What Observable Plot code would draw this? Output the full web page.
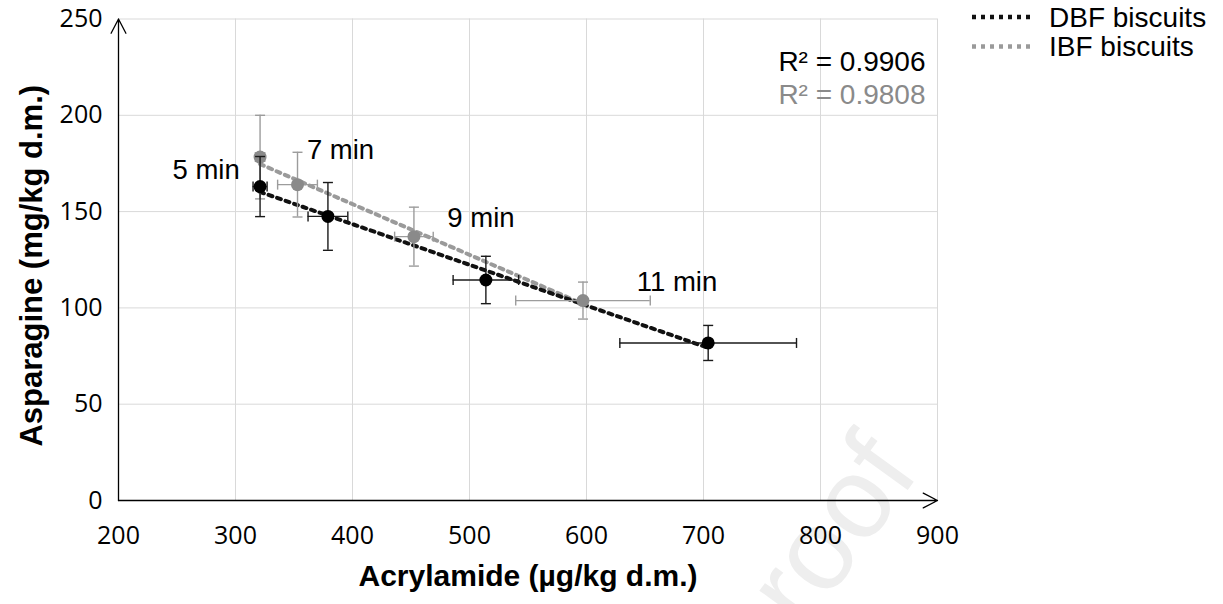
<!DOCTYPE html>
<html>
<head>
<meta charset="utf-8">
<script src="https://cdn.jsdelivr.net/npm/d3@7"></script>
<script src="https://cdn.jsdelivr.net/npm/@observablehq/plot@0.6"></script>
<style>
  body { margin: 0; background: #fff; }
  #chart { width: 1223px; height: 604px; overflow: hidden; }
</style>
</head>
<body>
<div id="chart"></div>
<script>
// ---- data ----
const xDomain = [200, 900];
const yDomain = [0, 250];
const xTicks = [200, 300, 400, 500, 600, 700, 800, 900];
const yTicks = [0, 50, 100, 150, 200, 250];
const times = ["5 min", "7 min", "9 min", "11 min"];
const dbfAcrylamide   = [321, 379, 514, 704];
const dbfAcrylamideSD = [6, 17, 28, 75.5];
const dbfAsparagine   = [163, 147.5, 114.5, 81.8];
const dbfAsparagineSD = [15.6, 17.6, 12.3, 9.1];
const ibfAcrylamide   = [321, 353, 452.5, 597];
const ibfAcrylamideSD = [4, 17, 16.5, 57.5];
const ibfAsparagine   = [178.3, 164, 137, 103.8];
const ibfAsparagineSD = [21.7, 16.8, 15.3, 9.6];
const seriesNames = ["DBF biscuits", "IBF biscuits"];
const r2Labels = ["R\u00B2 = 0.9906", "R\u00B2 = 0.9808"];
const xTitle = "Acrylamide (\u00B5g/kg d.m.)";
const yTitle = "Asparagine (mg/kg d.m.)";
const watermark = "Journal Pre-proof";

// ---- styles ----
const BLACK = "#000000";
const GRAY = "#8a8a8a";
const GRAY_LINE = "#9a9a9a";
const GRAY_ERR = "#9c9c9c";
const BLACK_ERR = "#1a1a1a";
const ARIAL = "'Liberation Sans', Arial, sans-serif";
const TICKFONT = "'Open Sans', 'Liberation Sans', sans-serif";

const dbf = times.map((t, i) => ({time: t, x: dbfAcrylamide[i], ex: dbfAcrylamideSD[i], y: dbfAsparagine[i], ey: dbfAsparagineSD[i]}));
const ibf = times.map((t, i) => ({time: t, x: ibfAcrylamide[i], ex: ibfAcrylamideSD[i], y: ibfAsparagine[i], ey: ibfAsparagineSD[i]}));

const capH = {draw(ctx, size) { const r = Math.sqrt(size / Math.PI); ctx.moveTo(-r, 0); ctx.lineTo(r, 0); }};
const capV = {draw(ctx, size) { const r = Math.sqrt(size / Math.PI); ctx.moveTo(0, -r); ctx.lineTo(0, r); }};

function errorMarks(data, color) {
  const sw = 1.4;
  return [
    Plot.ruleX(data, {x: "x", y1: d => d.y - d.ey, y2: d => d.y + d.ey, stroke: color, strokeWidth: sw}),
    Plot.ruleY(data, {y: "y", x1: d => d.x - d.ex, x2: d => d.x + d.ex, stroke: color, strokeWidth: sw}),
    Plot.dot(data, {x: "x", y: d => d.y + d.ey, symbol: capH, r: 5, stroke: color, strokeWidth: sw, fill: "none"}),
    Plot.dot(data, {x: "x", y: d => d.y - d.ey, symbol: capH, r: 5, stroke: color, strokeWidth: sw, fill: "none"}),
    Plot.dot(data, {x: d => d.x - d.ex, y: "y", symbol: capV, r: 5, stroke: color, strokeWidth: sw, fill: "none"}),
    Plot.dot(data, {x: d => d.x + d.ex, y: "y", symbol: capV, r: 5, stroke: color, strokeWidth: sw, fill: "none"})
  ];
}

const axisLines = [
  {x1: xDomain[0], y1: yDomain[0], x2: xDomain[1], y2: yDomain[0]},
  {x1: xDomain[0], y1: yDomain[0], x2: xDomain[0], y2: yDomain[1]}
];

const labelOffsets = [[-54, 13], [43, -34], [67, -18], [94, -18]];
const timeLabels = ibf.map((d, i) =>
  Plot.text([d], {x: "x", y: "y", text: "time", dx: labelOffsets[i][0], dy: labelOffsets[i][1],
    fontSize: 27.5, fontFamily: ARIAL, fill: "#000"}));

const dash = "4 5";

const plot = Plot.plot({
  width: 1223,
  height: 604,
  marginLeft: 118,
  marginRight: 286,
  marginTop: 18.5,
  marginBottom: 104,
  x: {domain: xDomain},
  y: {domain: yDomain},
  style: {fontFamily: ARIAL, background: "#fff", overflow: "visible", color: "#000"},
  marks: [
    Plot.text([watermark], {text: d => d, frameAnchor: "bottom-right", dx: -17, dy: -28, rotate: -54,
      textAnchor: "end", fontSize: 115, fontFamily: ARIAL, fill: "#eeeeee"}),
    Plot.gridX(xTicks, {stroke: "#d9d9d9", strokeOpacity: 1, strokeWidth: 1}),
    Plot.gridY(yTicks, {stroke: "#d9d9d9", strokeOpacity: 1, strokeWidth: 1}),
    Plot.axisX(xTicks, {tickSize: 0, tickPadding: 26, fontSize: 25, fontFamily: TICKFONT, label: null, tickFormat: d => String(d)}),
    Plot.axisY(yTicks, {tickSize: 0, tickPadding: 16, fontSize: 25, fontFamily: TICKFONT, label: null, tickFormat: d => String(d)}),
    Plot.arrow(axisLines, {x1: "x1", y1: "y1", x2: "x2", y2: "y2", stroke: BLACK, strokeWidth: 1.3, headLength: 18.5, headAngle: 55}),
    Plot.linearRegressionY(ibf, {x: "x", y: "y", ci: 0, stroke: GRAY_LINE, strokeWidth: 4, strokeDasharray: dash}),
    Plot.linearRegressionY(dbf, {x: "x", y: "y", ci: 0, stroke: "#111", strokeWidth: 4, strokeDasharray: dash}),
    ...errorMarks(ibf, GRAY_ERR),
    Plot.dot(ibf, {x: "x", y: "y", r: 6.5, fill: GRAY, stroke: "none"}),
    ...errorMarks(dbf, BLACK_ERR),
    Plot.dot(dbf, {x: "x", y: "y", r: 6.5, fill: BLACK, stroke: "none"}),
    ...timeLabels,
    Plot.text([r2Labels[0]], {text: d => d, frameAnchor: "top-right", dx: -12, dy: 32.5, textAnchor: "end", fontSize: 28, fontFamily: ARIAL, fill: "#000"}),
    Plot.text([r2Labels[1]], {text: d => d, frameAnchor: "top-right", dx: -12, dy: 65.5, textAnchor: "end", fontSize: 28, fontFamily: ARIAL, fill: GRAY}),
    Plot.text([xTitle], {text: d => d, frameAnchor: "bottom", textAnchor: "middle", dx: 0, dy: 85, fontSize: 30, fontWeight: "bold", fontFamily: ARIAL, fill: "#000"}),
    Plot.text([yTitle], {text: d => d, frameAnchor: "left", textAnchor: "middle", dx: -86, dy: 6, rotate: -90, fontSize: 31, fontWeight: "bold", fontFamily: ARIAL, fill: "#000"})
  ]
});

// ---- legend (top right, outside the plot frame) ----
const svg = d3.select(plot);
const legendColors = ["#111", GRAY_LINE];
const lg = svg.append("g").attr("class", "legend").attr("text-anchor", "start");
seriesNames.forEach((name, i) => {
  const cy = 17 + i * 29.5;
  lg.append("line").attr("x1", 972).attr("x2", 1032).attr("y1", cy).attr("y2", cy)
    .attr("stroke", legendColors[i]).attr("stroke-width", 4.5).attr("stroke-dasharray", dash);
  lg.append("text").attr("x", 1049).attr("y", cy).attr("dy", "0.35em").attr("text-anchor", "start")
    .attr("font-family", ARIAL).attr("font-size", 28).attr("fill", "#000").text(name);
});

document.getElementById("chart").appendChild(plot);
</script>
</body>
</html>
